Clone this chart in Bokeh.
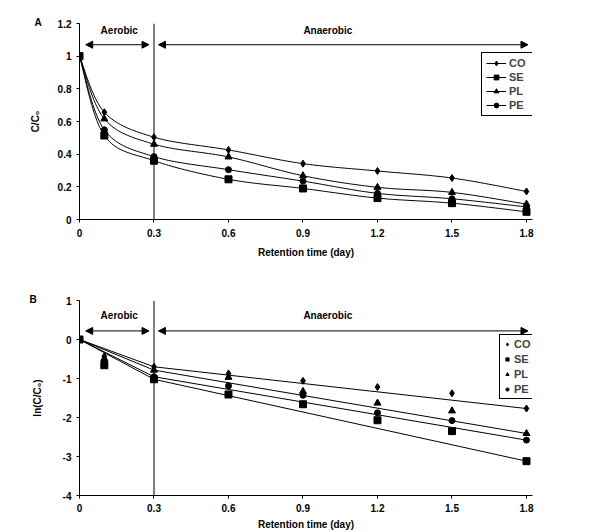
import numpy as np
from bokeh.plotting import figure
from bokeh.models import (FixedTicker, Span, Arrow, NormalHead, Label, Legend,
                          LegendItem, Range1d)
from bokeh.layouts import column
from bokeh.embed import file_html
from bokeh.resources import INLINE

# ---------------- data ----------------
time = [0, 0.1, 0.3, 0.6, 0.9, 1.2, 1.5, 1.8]
series = ["CO", "SE", "PL", "PE"]
ratio_CO = [1.0, 0.657, 0.504, 0.426, 0.342, 0.297, 0.254, 0.172]
ratio_SE = [1.0, 0.514, 0.360, 0.246, 0.190, 0.131, 0.100, 0.047]
ratio_PL = [1.0, 0.616, 0.461, 0.383, 0.268, 0.197, 0.166, 0.094]
ratio_PE = [1.0, 0.549, 0.385, 0.305, 0.235, 0.160, 0.127, 0.077]
ln_CO = [0.0, -0.43, -0.70, -0.87, -1.06, -1.22, -1.38, -1.77]
ln_SE = [0.0, -0.66, -1.02, -1.41, -1.66, -2.07, -2.35, -3.12]
ln_PL = [0.0, -0.49, -0.785, -0.97, -1.33, -1.63, -1.83, -2.41]
ln_PE = [0.0, -0.57, -0.955, -1.19, -1.43, -1.88, -2.08, -2.58]
x_ticks = [0, 0.3, 0.6, 0.9, 1.2, 1.5, 1.8]
x_tick_labels = ["0", "0.3", "0.6", "0.9", "1.2", "1.5", "1.8"]
yA_ticks = [0, 0.2, 0.4, 0.6, 0.8, 1.0, 1.2]
yA_tick_labels = ["0", "0.2", "0.4", "0.6", "0.8", "1", "1.2"]
yB_ticks = [-4, -3, -2, -1, 0, 1]
yB_tick_labels = ["-4", "-3", "-2", "-1", "0", "1"]
phase_labels = ["Aerobic", "Anaerobic"]
phase_bounds = [0, 0.3, 1.8]

ratios = dict(zip(series, [ratio_CO, ratio_SE, ratio_PL, ratio_PE]))
lns = dict(zip(series, [ln_CO, ln_SE, ln_PL, ln_PE]))
markers = {"CO": ("diamond", 7), "SE": ("square", 7), "PL": ("triangle", 7), "PE": ("circle", 6)}

FONT = "Liberation Sans"
PX_PER_DAY = 248.3
EXTRA = 6  # px of frame beyond 1.8 so the legend boxes are not clipped


def smooth(xs, ys, n=24):
    pts = np.column_stack([xs, ys]).astype(float)
    out = []
    for i in range(len(pts) - 1):
        p0 = pts[i - 1] if i > 0 else pts[i]
        p1, p2 = pts[i], pts[i + 1]
        p3 = pts[i + 2] if i + 2 < len(pts) else pts[i + 1]
        c1 = p1 + (p2 - p0) / 6.0
        c2 = p2 - (p3 - p1) / 6.0
        t = np.linspace(0, 1, n)[:, None]
        seg = (1 - t) ** 3 * p1 + 3 * (1 - t) ** 2 * t * c1 + 3 * (1 - t) * t ** 2 * c2 + t ** 3 * p2
        out.append(seg if i == 0 else seg[1:])
    arr = np.vstack(out)
    return arr[:, 0], arr[:, 1]


def style(p, yticks, ylabels, ylabel, y_standoff, x_tick_standoff, x_label_standoff):
    p.outline_line_color = None
    p.xgrid.visible = False
    p.ygrid.visible = False
    p.background_fill_color = "white"
    p.border_fill_color = "white"
    p.xaxis.ticker = FixedTicker(ticks=x_ticks)
    p.xaxis.major_label_overrides = dict(zip(x_ticks, x_tick_labels))
    p.yaxis.ticker = FixedTicker(ticks=yticks)
    p.yaxis.major_label_overrides = dict(zip(yticks, ylabels))
    for ax in (p.xaxis[0], p.yaxis[0]):
        ax.minor_tick_line_color = None
        ax.major_tick_in = 0
        ax.major_tick_out = 3
        ax.axis_line_color = "black"
        ax.major_tick_line_color = "black"
        ax.major_label_text_font = FONT
        ax.major_label_text_font_style = "bold"
        ax.major_label_text_font_size = "10px"
        ax.major_label_text_color = "black"
        ax.axis_label_text_font = FONT
        ax.axis_label_text_font_style = "bold"
        ax.axis_label_text_font_size = "10px"
        ax.axis_label_text_color = "black"
    p.xaxis.axis_label = "Retention time (day)"
    p.xaxis.major_label_standoff = x_tick_standoff
    p.xaxis.axis_label_standoff = x_label_standoff
    p.yaxis.axis_label = ylabel
    p.yaxis.major_label_standoff = 5
    p.yaxis.axis_label_standoff = y_standoff


def phase_annotations(p, text_y, arrow_y):
    p.add_layout(Span(location=phase_bounds[1], dimension="height",
                      line_color="black", line_width=1))
    gaps = [(0.025, -0.02), (0.018, 0.006)]
    for i, name in enumerate(phase_labels):
        a, b = phase_bounds[i], phase_bounds[i + 1]
        p.add_layout(Label(x=(a + b) / 2 + (0.01 if i == 0 else -0.05), y=text_y, text=name,
                           text_font=FONT, text_font_style="bold", text_font_size="10px",
                           text_align="center", text_baseline="middle", text_color="black"))
        p.add_layout(Arrow(start=NormalHead(size=7, fill_color="black", line_color="black"),
                           end=NormalHead(size=7, fill_color="black", line_color="black"),
                           x_start=a + gaps[i][0], y_start=arrow_y,
                           x_end=b + gaps[i][1], y_end=arrow_y,
                           line_color="black", line_width=1))


def panel_title(p, text, offset, standoff):
    p.title.text = text
    p.title.align = "left"
    p.title.offset = offset
    p.title.standoff = standoff
    p.title.text_font = FONT
    p.title.text_font_style = "bold"
    p.title.text_font_size = "10px"
    p.title.text_color = "black"


def make_legend(items, loc, padding, spacing, glyph_width, standoff):
    return Legend(items=items, location=loc, border_line_color="black",
                  border_line_width=1, border_line_alpha=1.0,
                  background_fill_color="white", background_fill_alpha=1.0,
                  padding=padding, spacing=spacing, margin=0, glyph_width=glyph_width,
                  glyph_height=12, label_height=12, label_standoff=standoff,
                  label_text_font=FONT, label_text_font_style="bold",
                  label_text_font_size="11px")


# ---------------- panel A ----------------
pA = figure(width=600, height=270, output_backend="svg", toolbar_location=None,
            x_range=Range1d(0, 1.8 + EXTRA / PX_PER_DAY), y_range=Range1d(0, 1.2),
            min_border_left=79, min_border_right=74 - EXTRA, min_border_top=23,
            min_border_bottom=51)
style(pA, yA_ticks, yA_tick_labels, "C/C₀", 14, 6, 7)
panel_title(pA, "A", -45, -8)
phase_annotations(pA, 1.157, 1.07)

itemsA = []
for s in series:
    sx, sy = smooth(time, ratios[s])
    r1 = pA.line(sx, sy, line_color="black", line_width=1)
    m, size = markers[s]
    r2 = pA.scatter(time, ratios[s], marker=m, size=size, fill_color="black", line_color="black")
    itemsA.append(LegendItem(label=s, renderers=[r1, r2]))

pA.add_layout(make_legend(itemsA, (402, 103), 4, 2, 20, 3))

# ---------------- panel B ----------------
pB = figure(width=600, height=262, output_backend="svg", toolbar_location=None,
            x_range=Range1d(0, 1.8 + EXTRA / PX_PER_DAY), y_range=Range1d(-4, 1),
            min_border_left=79, min_border_right=74 - EXTRA, min_border_top=30,
            min_border_bottom=37)
style(pB, yB_ticks, yB_tick_labels, "ln(C/C₀)", 17, 5, 4)
panel_title(pB, "B", -50, -9)
phase_annotations(pB, 0.62, 0.22)

itemsB = []
for s in series:
    ys = lns[s]
    pB.line([time[0], time[2]], [ys[0], ys[2]], line_color="black", line_width=1)
    pB.line([time[2], time[-1]], [ys[2], ys[-1]], line_color="black", line_width=1)
    m, size = markers[s]
    r = pB.scatter(time, ys, marker=m, size=size, fill_color="black", line_color="black")
    itemsB.append(LegendItem(label=s, renderers=[r]))

pB.add_layout(make_legend(itemsB, (420, 96), 3, 3, 8, 3))

layout = column(pA, pB, spacing=0)
open("out.html", "w").write(file_html(layout, INLINE))
